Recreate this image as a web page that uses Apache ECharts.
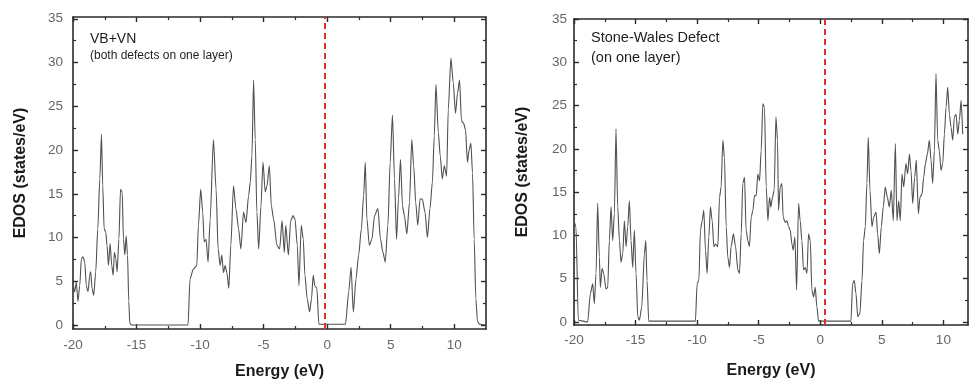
<!DOCTYPE html>
<html>
<head>
<meta charset="utf-8">
<script src="https://cdn.jsdelivr.net/npm/echarts@6/dist/echarts.min.js"></script>
<style>
html,body{margin:0;padding:0;background:#fff;}
#chart{width:970px;height:385px;}
</style>
</head>
<body>
<div id="chart"></div>
<script>
// ---- Data ----
// Panel 1: VB+VN (both defects on one layer)
const vbE = [
  -20, -19.87, -19.74, -19.61, -19.47, -19.34, -19.21, -19.08, -18.95, -18.82,
  -18.68, -18.61, -18.5, -18.37, -18.21, -18.05, -17.89, -17.76, -17.66, -17.55,
  -17.42, -17.32, -17.21, -17.08, -16.95, -16.84, -16.74, -16.63, -16.53, -16.39,
  -16.26, -16.13, -16.03, -15.92, -15.82, -15.71, -15.61, -15.53, -15.4, -10.95,
  -10.79, -10.53, -10.26, -10.13, -9.95, -9.79, -9.68, -9.53, -9.37, -9.21,
  -8.95, -8.74, -8.58, -8.42, -8.29, -8.16, -8.03, -7.89, -7.74, -7.58,
  -7.37, -7.18, -6.97, -6.79, -6.58, -6.39, -6.18, -6.05, -5.92, -5.79,
  -5.66, -5.53, -5.39, -5.21, -5.05, -4.87, -4.74, -4.55, -4.39, -4.21,
  -3.95, -3.74, -3.55, -3.37, -3.26, -3.05, -2.87, -2.69, -2.53, -2.35,
  -2.22, -2.04, -1.88, -1.75, -1.57, -1.38, -1.23, -1.1, -0.97, -0.81,
  -0.65, 1.44, 1.7, 1.88, 2.06, 2.27, 2.48, 2.69, 2.87, 3.0,
  3.13, 3.32, 3.52, 3.73, 3.99, 4.2, 4.39, 4.57, 4.78, 4.96,
  5.14, 5.3, 5.46, 5.61, 5.77, 5.93, 6.08, 6.27, 6.48, 6.66,
  6.81, 6.97, 7.13, 7.31, 7.49, 7.7, 7.89, 8.09, 8.28, 8.43,
  8.56, 8.75, 8.9, 9.06, 9.22, 9.4, 9.53, 9.74, 9.92, 10.1,
  10.26, 10.42, 10.57, 10.73, 10.89, 11.04, 11.17, 11.31, 11.44, 11.57,
  11.7, 11.83, 12.0, 12.5
];
const vbDos = [
  4.8, 3.8, 4.9, 2.7, 4.5, 7.6, 7.8, 7.2, 4.5, 3.8,
  5.7, 6.1, 4.2, 3.4, 6.1, 11, 16.7, 21.8, 15.9, 11,
  10.6, 9.1, 6.8, 9.3, 6.8, 5.7, 8.3, 7.6, 6.1, 9.8,
  15.5, 15.2, 9.8, 8, 10.2, 8, 2.7, 0.2, 0, 0,
  5.3, 6.4, 6.8, 11.4, 15.5, 12.9, 9.5, 9.8, 7.2, 12,
  21.2, 15.5, 8.7, 6.8, 8, 6, 6.8, 6, 4.2, 9.1,
  15.9, 13.3, 11, 8.7, 12.9, 11.7, 14.8, 16.3, 19.3, 28,
  21.2, 12.9, 8.7, 13.6, 18.6, 15.2, 15.9, 18.2, 13.6, 12.1,
  9.1, 8.7, 11.9, 8.3, 11.4, 8, 11.9, 12.5, 12.1, 9.1,
  4.5, 11.4, 9.8, 5.7, 3, 1.5, 3, 5.7, 4.5, 4.2,
  0.1, 0.1, 3.8, 6.6, 1.5, 5.3, 8, 11, 14.8, 18.6,
  12.1, 9.1, 9.8, 12.5, 13.3, 9.8, 8.3, 7.2, 11.4, 18.6,
  24, 16.7, 9.8, 14.4, 18.9, 13.6, 12.5, 10.4, 14, 21.2,
  18.2, 14, 11.4, 14.4, 14.4, 12.9, 10, 13.3, 16.3, 21.6,
  27.5, 22, 19.3, 16.7, 18.2, 17, 24.6, 30.5, 27.7, 24.2,
  26.5, 28, 23.3, 23.1, 22.3, 18.6, 20, 20.8, 17.4, 9.8,
  3, 0.4, 0.1, 0
];

// Panel 2: Stone-Wales Defect (on one layer)
const swE = [
  -20, -19.97, -19.84, -19.65, -18.89, -18.67, -18.48, -18.35, -18.21, -18.08,
  -17.94, -17.86, -17.72, -17.59, -17.4, -17.26, -17.13, -16.99, -16.86, -16.72,
  -16.59, -16.45, -16.31, -16.18, -16.04, -15.91, -15.77, -15.64, -15.5, -15.37,
  -15.23, -15.1, -14.96, -14.82, -14.69, -14.5, -14.28, -14.17, -14.07, -13.93,
  -10.14, -10.0, -9.86, -9.73, -9.59, -9.46, -9.32, -9.19, -9.05, -8.92,
  -8.78, -8.64, -8.51, -8.32, -8.18, -8.05, -7.91, -7.78, -7.64, -7.51,
  -7.37, -7.24, -7.05, -6.88, -6.69, -6.56, -6.42, -6.29, -6.15, -6.02,
  -5.88, -5.75, -5.61, -5.47, -5.34, -5.2, -5.07, -4.93, -4.8, -4.66,
  -4.53, -4.39, -4.25, -4.12, -4.01, -3.88, -3.74, -3.6, -3.47, -3.39,
  -3.25, -3.12, -3.01, -2.85, -2.71, -2.57, -2.44, -2.3, -2.2, -2.06,
  -1.92, -1.76, -1.63, -1.49, -1.36, -1.22, -1.08, -0.95, -0.81, -0.68,
  -0.54, -0.41, -0.27, -0.14, 2.49, 2.63, 2.76, 2.9, 3.04, 3.22,
  3.39, 3.52, 3.66, 3.79, 3.9, 4.04, 4.2, 4.34, 4.53, 4.66,
  4.8, 4.96, 5.12, 5.28, 5.45, 5.61, 5.77, 5.93, 6.1, 6.23,
  6.37, 6.5, 6.64, 6.78, 6.96, 7.1, 7.24, 7.37, 7.51, 7.67,
  7.8, 7.97, 8.1, 8.27, 8.4, 8.54, 8.7, 8.86, 9.0, 9.13,
  9.27, 9.4, 9.54, 9.67, 9.81, 9.95, 10.08, 10.22, 10.35, 10.49,
  10.62, 10.76, 10.89, 11.03, 11.17, 11.3, 11.44, 11.57
];
const swDos = [
  0.3, 11.5, 11, 0.2, 0, 3.3, 4.4, 2.1, 5.6, 13.7,
  7.5, 4, 6.2, 5.6, 3.8, 4, 9.4, 13.3, 9.4, 12.5,
  22.3, 13.3, 9.4, 6.9, 7.9, 11.7, 8.7, 11, 14, 9.4,
  6.3, 10.6, 5.6, 0.6, 0.2, 1.7, 7.9, 9.4, 4.8, 0.1,
  0.1, 4.4, 4.8, 10.6, 11.7, 12.9, 8.3, 5.6, 9.8, 13.3,
  11.7, 8.7, 9, 8.7, 14.4, 15.6, 21, 19, 11, 7.5,
  6.3, 8.7, 10.2, 8.7, 6, 5.6, 10.2, 16, 16.7, 10.6,
  9.4, 8.7, 12.1, 12.9, 14.6, 14.6, 17.1, 16.3, 19.8, 25.2,
  24.8, 15.6, 11.7, 14.4, 13.3, 14.4, 15.2, 23.7, 21, 12.9,
  15.6, 16, 12.1, 11.5, 11.7, 11, 10.6, 9, 8.3, 9.8,
  3.7, 13.7, 11.7, 9.4, 6, 6.3, 5.6, 10.2, 9.4, 3.7,
  2.9, 4, 1.7, 0.1, 0.1, 4.4, 4.8, 3.3, 0.6, 1,
  4.8, 9.4, 11, 16, 21.3, 15.2, 11, 12.1, 12.7, 10.2,
  7.9, 11, 13.3, 15.6, 14.4, 13.3, 15.2, 11.7, 20.6, 11.7,
  14, 11.7, 17.1, 15.6, 18.3, 17.1, 19.4, 17.5, 13.7, 16.7,
  18.7, 12.5, 14.4, 14.8, 16.7, 18.3, 19.4, 21, 18.7, 16,
  19.8, 28.7, 21, 19.8, 17.5, 18.3, 21.7, 24.8, 27.1, 24,
  22.5, 21, 23.7, 24, 21.7, 23.3, 25.6, 21.7
];

// Fermi level (red dashed lines), eV
const fermiLevels = [-0.15, 0.4];

// Tick values
const xTicks = [-20, -15, -10, -5, 0, 5, 10];
const xMinorTicks = [-17.5, -12.5, -7.5, -2.5, 2.5, 7.5];
const yTicks = [0, 5, 10, 15, 20, 25, 30, 35];
const yMinorTicks = [2.5, 7.5, 12.5, 17.5, 22.5, 27.5, 32.5];

const panelTitles = [['VB+VN', '(both defects on one layer)'], ['Stone-Wales Defect', '(on one layer)']];
const xTitle = 'Energy (eV)';
const yTitle = 'EDOS (states/eV)';

// ---- Build option ----
const FONT = 'Liberation Sans, Arial, Helvetica, sans-serif';
const AXIS_COLOR = '#2a2a2a';

function pairs(xs, ys) { return xs.map((x, i) => [x, ys[i]]); }

function lineCfg(show) {
  return {show: show, onZero: false, lineStyle: {color: AXIS_COLOR, width: 1.6}};
}

function makeXAxes(gi, min, max, nameGap, labelMargin) {
  const base = {gridIndex: gi, type: 'value', min: min, max: max, splitLine: {show: false}};
  return [
    Object.assign({}, base, {
      position: 'bottom',
      name: xTitle, nameLocation: 'middle', nameGap: nameGap,
      nameTextStyle: {fontFamily: FONT, fontSize: 16, fontWeight: 'bold', color: '#1a1a1a'},
      axisLine: lineCfg(true),
      axisTick: {show: true, inside: true, length: 5, customValues: xTicks, lineStyle: {color: AXIS_COLOR, width: 1.4}},
      axisLabel: {show: true, customValues: xTicks, margin: labelMargin, color: '#666', fontFamily: FONT, fontSize: 13.5}
    }),
    Object.assign({}, base, {
      position: 'bottom',
      axisLine: lineCfg(false),
      axisTick: {show: true, inside: true, length: 3, customValues: xMinorTicks, lineStyle: {color: AXIS_COLOR, width: 1.2}},
      axisLabel: {show: false}
    }),
    Object.assign({}, base, {
      position: 'top',
      axisLine: lineCfg(true),
      axisTick: {show: true, inside: true, length: 5, customValues: xTicks, lineStyle: {color: AXIS_COLOR, width: 1.4}},
      axisLabel: {show: false}
    }),
    Object.assign({}, base, {
      position: 'top',
      axisLine: lineCfg(false),
      axisTick: {show: true, inside: true, length: 3, customValues: xMinorTicks, lineStyle: {color: AXIS_COLOR, width: 1.2}},
      axisLabel: {show: false}
    })
  ];
}

function makeYAxes(gi, min, max, nameGap, labelMargin) {
  const base = {gridIndex: gi, type: 'value', min: min, max: max, splitLine: {show: false}};
  return [
    Object.assign({}, base, {
      position: 'left',
      name: yTitle, nameLocation: 'middle', nameGap: nameGap,
      nameTextStyle: {fontFamily: FONT, fontSize: 16, fontWeight: 'bold', color: '#1a1a1a'},
      axisLine: lineCfg(true),
      axisTick: {show: true, inside: true, length: 5, customValues: yTicks, lineStyle: {color: AXIS_COLOR, width: 1.4}},
      axisLabel: {show: true, customValues: yTicks, margin: labelMargin, color: '#666', fontFamily: FONT, fontSize: 13.5}
    }),
    Object.assign({}, base, {
      position: 'left',
      axisLine: lineCfg(false),
      axisTick: {show: true, inside: true, length: 3, customValues: yMinorTicks, lineStyle: {color: AXIS_COLOR, width: 1.2}},
      axisLabel: {show: false}
    }),
    Object.assign({}, base, {
      position: 'right',
      axisLine: lineCfg(true),
      axisTick: {show: true, inside: true, length: 5, customValues: yTicks, lineStyle: {color: AXIS_COLOR, width: 1.4}},
      axisLabel: {show: false}
    }),
    Object.assign({}, base, {
      position: 'right',
      axisLine: lineCfg(false),
      axisTick: {show: true, inside: true, length: 3, customValues: yMinorTicks, lineStyle: {color: AXIS_COLOR, width: 1.2}},
      axisLabel: {show: false}
    })
  ];
}

function makeSeries(name, xs, ys, xi, yi, fermi) {
  return {
    name: name, type: 'line', xAxisIndex: xi, yAxisIndex: yi,
    data: pairs(xs, ys), showSymbol: false, symbol: 'none',
    smooth: 0.25, smoothMonotone: 'x',
    lineStyle: {color: '#505050', width: 1.1},
    markLine: {
      silent: true, symbol: ['none', 'none'], label: {show: false},
      lineStyle: {color: '#e2312b', type: [6, 4], width: 2},
      data: [{xAxis: fermi}]
    }
  };
}

const chart = echarts.init(document.getElementById('chart'), null, {renderer: 'canvas'});
const option = {
  animation: false,
  backgroundColor: '#ffffff',
  grid: [
    {left: 73, top: 17, width: 413, height: 314},
    {left: 574, top: 19, width: 394, height: 306}
  ],
  xAxis: makeXAxes(0, -20, 12.5, 35, 9).concat(makeXAxes(1, -20, 12, 38, 8)),
  yAxis: makeYAxes(0, -0.45, 35.2, 44, 10).concat(makeYAxes(1, -0.35, 35, 43, 7)),
  series: [
    makeSeries('VB+VN', vbE, vbDos, 0, 0, fermiLevels[0]),
    makeSeries('Stone-Wales', swE, swDos, 4, 4, fermiLevels[1])
  ],
  graphic: [
    {type: 'text', left: 90, top: 32, style: {text: panelTitles[0][0], fontFamily: FONT, fontSize: 14, fill: '#1e1e1e'}},
    {type: 'text', left: 90, top: 50, style: {text: panelTitles[0][1], fontFamily: FONT, fontSize: 12, fill: '#1e1e1e'}},
    {type: 'text', left: 591, top: 30, style: {text: panelTitles[1][0], fontFamily: FONT, fontSize: 14.5, fill: '#1e1e1e'}},
    {type: 'text', left: 591, top: 50, style: {text: panelTitles[1][1], fontFamily: FONT, fontSize: 14.5, fill: '#1e1e1e'}}
  ]
};
chart.setOption(option);
</script>
</body>
</html>
